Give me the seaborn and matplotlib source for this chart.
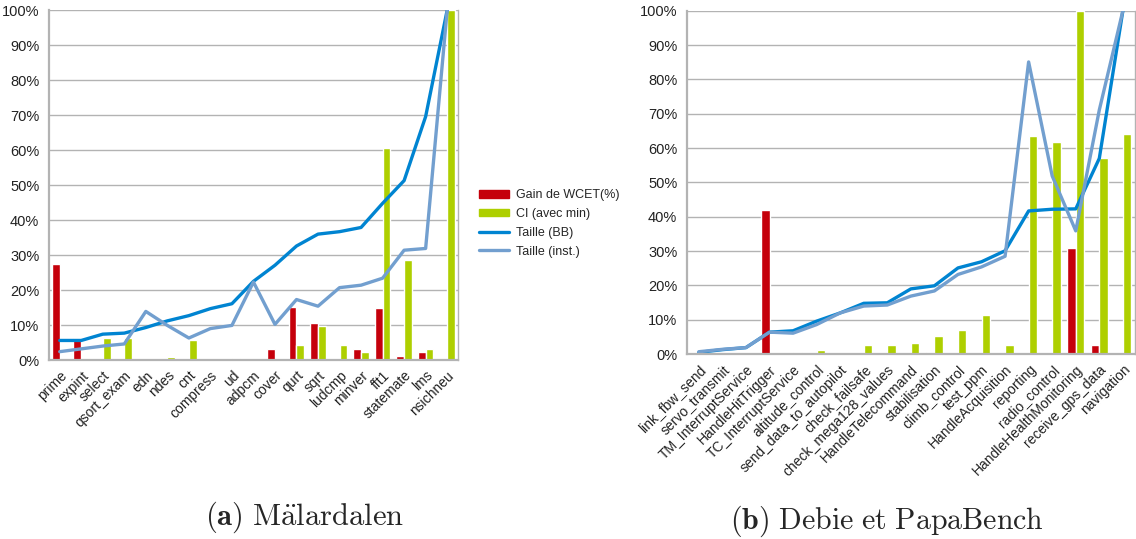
import numpy as np
import pandas as pd
import seaborn as sns
import matplotlib.pyplot as plt
from matplotlib.ticker import PercentFormatter, FixedLocator
from matplotlib.patches import Patch
from matplotlib.lines import Line2D

# Malardalen benchmarks
mal_names = ['prime', 'expint', 'select', 'qsort_exam', 'edn', 'ndes', 'cnt', 'compress',
             'ud', 'adpcm', 'cover', 'qurt', 'sqrt', 'ludcmp', 'minver', 'fft1',
             'statemate', 'lms', 'nsichneu']
mal_gain = [27.4, 6.4, 0, 0, 0, 0, 0, 0, 0, 0.3, 3.1, 15.1, 10.5, 0, 3.3, 14.8, 1.3, 2.2, 0]
mal_ci = [0.3, 0.3, 6.2, 6.2, 0.3, 0.8, 5.6, 0.3, 0.5, 0.3, 0.3, 4.2, 9.6, 4.2, 2.2, 60.6,
          28.6, 3.3, 100]
mal_bb = [5.6, 5.6, 7.4, 7.7, 9.3, 11.2, 12.7, 14.7, 16.1, 22.5, 27.1, 32.6, 36.0, 36.7,
          37.9, 44.8, 51.3, 69.6, 100]
mal_inst = [2.4, 3.2, 4.0, 4.6, 13.9, 9.9, 6.3, 9.0, 9.9, 22.3, 10.2, 17.3, 15.4, 20.7,
            21.4, 23.4, 31.4, 31.9, 100]

# Debie et PapaBench tasks
pb_names = ['link_fbw_send', 'servo_transmit', 'TM_InterruptService', 'HandleHitTrigger',
            'TC_InterruptService', 'altitude_control', 'send_data_to_autopilot',
            'check_failsafe', 'check_mega128_values', 'HandleTelecommand', 'stabilisation',
            'climb_control', 'test_ppm', 'HandleAcquisition', 'reporting', 'radio_control',
            'HandleHealthMonitoring', 'receive_gps_data', 'navigation']
pb_gain = [0, 0, 0, 41.9, 0, 0, 0, 0, 0, 0, 0.6, 0.4, 0.3, 0.3, 0, 0, 30.9, 2.6, 0]
pb_ci = [0, 0.3, 0, 0.3, 0.6, 1.2, 0.3, 2.6, 2.6, 3.2, 5.2, 7.0, 11.4, 2.6, 63.5, 61.7,
         100, 57.1, 64.1]
pb_bb = [0.5, 1.3, 1.9, 6.4, 6.8, 9.6, 12.0, 14.8, 14.95, 19.0, 19.9, 25.1, 26.9, 30.1,
         41.7, 42.2, 42.3, 57.0, 100]
pb_inst = [0.7, 1.4, 1.9, 6.4, 6.1, 8.6, 12.0, 14.0, 14.3, 16.9, 18.4, 23.2, 25.4, 28.5,
           85.1, 51.9, 35.9, 71.1, 100]

series = ['Gain de WCET(%)', 'CI (avec min)', 'Taille (BB)', 'Taille (inst.)']
RED = '#c5000b'
GREEN = '#aecf00'
DARK = '#0084d1'
LIGHT = '#729fcf'
GRID = '#b3b3b3'

sns.set_style('white')
plt.rcParams['font.family'] = ['Liberation Sans', 'DejaVu Sans']
plt.rcParams['mathtext.fontset'] = 'cm'

fig = plt.figure(figsize=(11.36, 5.39), dpi=100)
ax1 = fig.add_axes([0.0431, 0.332, 0.360, 0.649])
ax2 = fig.add_axes([0.6048, 0.343, 0.394, 0.637])


def draw(ax, names, gain, ci, bb, inst):
    n = len(names)
    df = pd.DataFrame({'name': names * 2, 'val': gain + ci,
                       'serie': [series[0]] * n + [series[1]] * n})
    sns.barplot(data=df, x='name', y='val', hue='serie', palette=[RED, GREEN],
                width=0.72, saturation=1, legend=False, ax=ax)
    sns.pointplot(x=names, y=bb, color=DARK, errorbar=None, markersize=0,
                  linewidth=2.4, ax=ax)
    sns.pointplot(x=names, y=inst, color=LIGHT, errorbar=None, markersize=0,
                  linewidth=2.4, ax=ax)
    ax.set_xlim(-0.5, n - 0.5)
    ax.set_ylim(0, 100)
    ax.set_yticks(np.arange(0, 101, 10))
    ax.yaxis.set_major_formatter(PercentFormatter(decimals=0))
    ax.yaxis.grid(True, color=GRID, lw=1)
    ax.set_axisbelow(True)
    ax.set_xlabel('')
    ax.set_ylabel('')
    ax.set_xticks(range(n))
    ax.set_xticklabels(names, rotation=45, ha='right', rotation_mode='anchor')
    ax.xaxis.set_minor_locator(FixedLocator(np.arange(n + 1) - 0.5))
    ax.tick_params(axis='x', which='major', length=0, pad=6, labelsize=10, colors='#222222')
    ax.tick_params(axis='x', which='minor', length=4, color=GRID, width=1)
    ax.tick_params(axis='y', length=4, color=GRID, width=1, labelsize=10.5,
                   colors='#222222', pad=3)
    ax.tick_params(axis='y', colors='#222222')
    for s in ['left', 'bottom']:
        ax.spines[s].set_color(GRID)
        ax.spines[s].set_linewidth(1.6)
    ax.spines['right'].set_color(GRID)
    ax.spines['right'].set_linewidth(1)
    ax.spines['top'].set_visible(False)


draw(ax1, mal_names, mal_gain, mal_ci, mal_bb, mal_inst)
draw(ax2, pb_names, pb_gain, pb_ci, pb_bb, pb_inst)

handles = [Patch(color=RED), Patch(color=GREEN),
           Line2D([], [], color=DARK, lw=2.4), Line2D([], [], color=LIGHT, lw=2.4)]
fig.legend(handles, series, loc='upper left', bbox_to_anchor=(474 / 1136, 1 - 184 / 539),
           frameon=False, fontsize=9, handlelength=2.4, handleheight=0.6,
           labelspacing=0.55, handletextpad=0.55, borderaxespad=0)

fig.text(0.268, 0.041, r'$\mathbf{(a)}\ \mathrm{M\ddot{a}lardalen}$', fontsize=22,
         ha='center', va='center')
fig.text(0.781, 0.033, r'$\mathbf{(b)}\ \mathrm{Debie\ et\ PapaBench}$', fontsize=21.5,
         ha='center', va='center')

fig.savefig('out.png', dpi=100)
